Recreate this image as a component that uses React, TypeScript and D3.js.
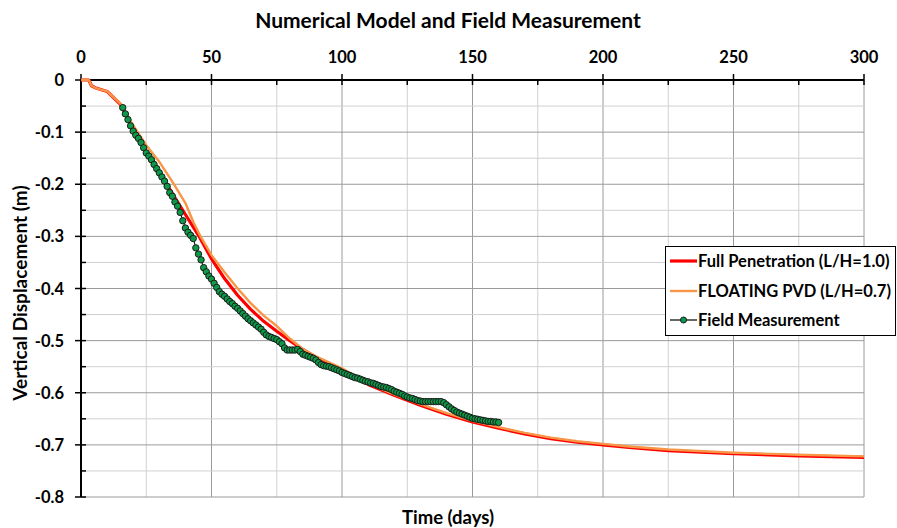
import React, { useEffect, useRef } from "react";
import * as d3 from "d3";

// numerical model - full penetration (L/H = 1.0)
const fullDays = [0, 3, 4, 6, 10, 15, 20, 25, 30, 35, 40, 45, 50, 55, 60, 65, 70, 75, 80, 85, 90, 95, 100, 110, 120, 130, 140, 150, 160, 170, 180, 190, 200, 210, 225, 250, 275, 300];
const fullValues = [0, 0, -0.011, -0.016, -0.022, -0.046, -0.094, -0.137, -0.176, -0.218, -0.258, -0.298, -0.343, -0.381, -0.413, -0.44, -0.463, -0.482, -0.5, -0.517, -0.532, -0.545, -0.556, -0.584, -0.605, -0.624, -0.641, -0.656, -0.668, -0.679, -0.688, -0.695, -0.7, -0.705, -0.711, -0.717, -0.721, -0.724];

// numerical model - floating PVD (L/H = 0.7)
const floatDays = [0, 3, 4, 6, 10, 15, 20, 25, 30, 35, 40, 43, 46, 50, 55, 60, 65, 70, 75, 80, 85, 90, 100, 110, 120, 130, 140, 150, 160, 170, 180, 190, 200, 210, 225, 250, 275, 300];
const floatValues = [0, 0, -0.011, -0.016, -0.022, -0.045, -0.087, -0.125, -0.157, -0.195, -0.236, -0.272, -0.302, -0.336, -0.369, -0.4, -0.428, -0.452, -0.472, -0.496, -0.516, -0.53, -0.553, -0.582, -0.603, -0.622, -0.639, -0.654, -0.666, -0.677, -0.686, -0.693, -0.698, -0.703, -0.709, -0.715, -0.719, -0.722];

// field measurement
const fieldDays = [16, 17, 18, 19, 20, 21, 22, 23, 24, 25, 26, 27, 28, 29, 30, 31, 32, 33, 34, 35, 36, 37, 38, 39, 40, 41, 42, 43, 44, 45, 46, 47, 48, 49, 50, 51, 52, 53, 54, 55, 56, 57, 58, 59, 60, 61, 62, 63, 64, 65, 66, 67, 68, 69, 70, 71, 72, 73, 74, 75, 76, 77, 78, 79, 80, 81, 82, 83, 84, 85, 86, 87, 88, 89, 90, 91, 92, 93, 94, 95, 96, 97, 98, 99, 100, 101, 102, 103, 104, 105, 106, 107, 108, 109, 110, 111, 112, 113, 114, 115, 116, 117, 118, 119, 120, 121, 122, 123, 124, 125, 126, 127, 128, 129, 130, 131, 132, 133, 134, 135, 136, 137, 138, 139, 140, 141, 142, 143, 144, 145, 146, 147, 148, 149, 150, 151, 152, 153, 154, 155, 156, 157, 158, 159, 160];
const fieldValues = [-0.053, -0.065, -0.076, -0.088, -0.098, -0.106, -0.112, -0.12, -0.13, -0.14, -0.146, -0.153, -0.162, -0.17, -0.178, -0.186, -0.194, -0.204, -0.216, -0.223, -0.234, -0.242, -0.254, -0.27, -0.284, -0.292, -0.298, -0.304, -0.322, -0.334, -0.345, -0.36, -0.368, -0.376, -0.382, -0.39, -0.398, -0.406, -0.411, -0.415, -0.42, -0.425, -0.429, -0.434, -0.438, -0.443, -0.448, -0.453, -0.458, -0.462, -0.466, -0.47, -0.474, -0.478, -0.484, -0.489, -0.492, -0.494, -0.496, -0.498, -0.502, -0.506, -0.514, -0.518, -0.518, -0.518, -0.518, -0.517, -0.521, -0.526, -0.528, -0.53, -0.532, -0.534, -0.537, -0.542, -0.546, -0.548, -0.549, -0.55, -0.552, -0.554, -0.556, -0.558, -0.561, -0.563, -0.565, -0.567, -0.569, -0.571, -0.572, -0.574, -0.576, -0.578, -0.579, -0.581, -0.582, -0.584, -0.586, -0.588, -0.589, -0.59, -0.592, -0.594, -0.597, -0.599, -0.601, -0.603, -0.606, -0.608, -0.61, -0.611, -0.613, -0.615, -0.616, -0.617, -0.617, -0.617, -0.617, -0.617, -0.617, -0.617, -0.617, -0.619, -0.623, -0.627, -0.631, -0.634, -0.637, -0.639, -0.641, -0.643, -0.645, -0.647, -0.649, -0.65, -0.651, -0.652, -0.653, -0.654, -0.655, -0.655, -0.656, -0.656, -0.657];

const xTicks = [0, 50, 100, 150, 200, 250, 300];
const yTicks = [0, -0.1, -0.2, -0.3, -0.4, -0.5, -0.6, -0.7, -0.8];
const legendLabels = ["Full Penetration (L/H=1.0)", "FLOATING PVD (L/H=0.7)", "Field Measurement"];

const RED = "#ff0000";
const ORANGE = "#f79646";
const GREEN = "#0c9a48";
const FONT = "Lato, 'Open Sans', sans-serif";

const App = () => {
  const ref = useRef(null);

  useEffect(() => {
    const svg = d3.select(ref.current);
    svg.selectAll("*").remove();

    const left = 81, right = 864, top = 80, bottom = 497;
    const x = d3.scaleLinear().domain([0, 300]).range([left, right]);
    const y = d3.scaleLinear().domain([0, -0.8]).range([top, bottom]);

    // gridlines
    const grid = svg.append("g");
    d3.range(25, 301, 25).forEach((d) => {
      grid.append("line")
        .attr("x1", x(d)).attr("x2", x(d)).attr("y1", top).attr("y2", bottom)
        .attr("stroke", d % 50 === 0 ? "#9a9a9a" : "#d0d0d0").attr("stroke-width", 1);
    });
    d3.range(1, 17).forEach((i) => {
      const v = -0.05 * i;
      grid.append("line")
        .attr("x1", left).attr("x2", right).attr("y1", y(v)).attr("y2", y(v))
        .attr("stroke", i % 2 === 0 ? "#9a9a9a" : "#d0d0d0").attr("stroke-width", 1);
    });

    // top axis
    const xAxis = svg.append("g");
    xAxis.append("line").attr("x1", left).attr("x2", right).attr("y1", top).attr("y2", top)
      .attr("stroke", "#000").attr("stroke-width", 2);
    d3.range(0, 301, 25).forEach((d) => {
      xAxis.append("line")
        .attr("x1", x(d)).attr("x2", x(d))
        .attr("y1", d % 50 === 0 ? top - 6 : top).attr("y2", top + 5)
        .attr("stroke", "#000").attr("stroke-width", 1.5);
    });
    xAxis.selectAll("text").data(xTicks).enter().append("text")
      .attr("x", (d) => x(d)).attr("y", 63)
      .attr("text-anchor", "middle")
      .style("font-family", FONT).style("font-size", "16.5px").style("font-weight", "bold")
      .text((d) => d);

    // left axis
    const yAxis = svg.append("g");
    yAxis.append("line").attr("x1", left).attr("x2", left).attr("y1", top).attr("y2", bottom)
      .attr("stroke", "#000").attr("stroke-width", 2);
    d3.range(0, 17).forEach((i) => {
      const v = -0.05 * i;
      yAxis.append("line")
        .attr("x1", i % 2 === 0 ? left - 6 : left).attr("x2", left + 5)
        .attr("y1", y(v)).attr("y2", y(v))
        .attr("stroke", "#000").attr("stroke-width", 1.5);
    });
    yAxis.selectAll("text").data(yTicks).enter().append("text")
      .attr("x", 64).attr("y", (d) => y(d) + 6)
      .attr("text-anchor", "end")
      .style("font-family", FONT).style("font-size", "16.5px").style("font-weight", "bold")
      .text((d) => (d === 0 ? "0" : d3.format(".1f")(d).replace("−", "-")));

    // series lines
    const line = d3.line().x((d) => x(d[0])).y((d) => y(d[1]));
    const fullData = fullDays.map((d, i) => [d, fullValues[i]]);
    const floatData = floatDays.map((d, i) => [d, floatValues[i]]);
    const fieldData = fieldDays.map((d, i) => [d, fieldValues[i]]);

    const plot = svg.append("g");
    plot.append("path").attr("d", line(fullData))
      .attr("fill", "none").attr("stroke", RED).attr("stroke-width", 3.2).attr("stroke-linejoin", "round");
    plot.append("path").attr("d", line(floatData))
      .attr("fill", "none").attr("stroke", ORANGE).attr("stroke-width", 2.4).attr("stroke-linejoin", "round");
    plot.append("path").attr("d", line(fieldData))
      .attr("fill", "none").attr("stroke", "#000").attr("stroke-width", 1);
    plot.selectAll("circle").data(fieldData).enter().append("circle")
      .attr("cx", (d) => x(d[0])).attr("cy", (d) => y(d[1])).attr("r", 3.2)
      .attr("fill", GREEN).attr("stroke", "#1b1b1b").attr("stroke-width", 1);

    // titles
    svg.append("text").attr("x", 448).attr("y", 28).attr("text-anchor", "middle")
      .style("font-family", FONT).style("font-size", "21px").style("font-weight", "bold")
      .text("Numerical Model and Field Measurement");
    svg.append("text").attr("x", 448).attr("y", 524).attr("text-anchor", "middle")
      .style("font-family", FONT).style("font-size", "18.5px").style("font-weight", "bold")
      .text("Time (days)");
    svg.append("text").attr("transform", "translate(27,293) rotate(-90)").attr("text-anchor", "middle")
      .style("font-family", FONT).style("font-size", "19px").style("font-weight", "bold")
      .text("Vertical Displacement (m)");

    // legend
    const legend = svg.append("g");
    legend.append("rect").attr("x", 665.5).attr("y", 246.5).attr("width", 230).attr("height", 89)
      .attr("fill", "#fff").attr("stroke", "#000").attr("stroke-width", 1);
    const rows = [261, 291, 320];
    const colors = [RED, ORANGE, "#000"];
    const widths = [3.2, 2.4, 1.2];
    legendLabels.forEach((lbl, i) => {
      legend.append("line").attr("x1", 670).attr("x2", 697).attr("y1", rows[i]).attr("y2", rows[i])
        .attr("stroke", colors[i]).attr("stroke-width", widths[i]);
      if (i === 2) {
        legend.append("circle").attr("cx", 683.5).attr("cy", rows[i]).attr("r", 3)
          .attr("fill", GREEN).attr("stroke", "#1b1b1b").attr("stroke-width", 1);
      }
      legend.append("text").attr("x", 698).attr("y", rows[i] + 6)
        .style("font-family", FONT).style("font-size", "16.5px").style("font-weight", "bold")
        .text(lbl);
    });
  }, []);

  return (
    <svg ref={ref} width={897} height={528}
      style={{ position: "absolute", left: 0, top: 0, background: "#fff" }} />
  );
};

export default App;
